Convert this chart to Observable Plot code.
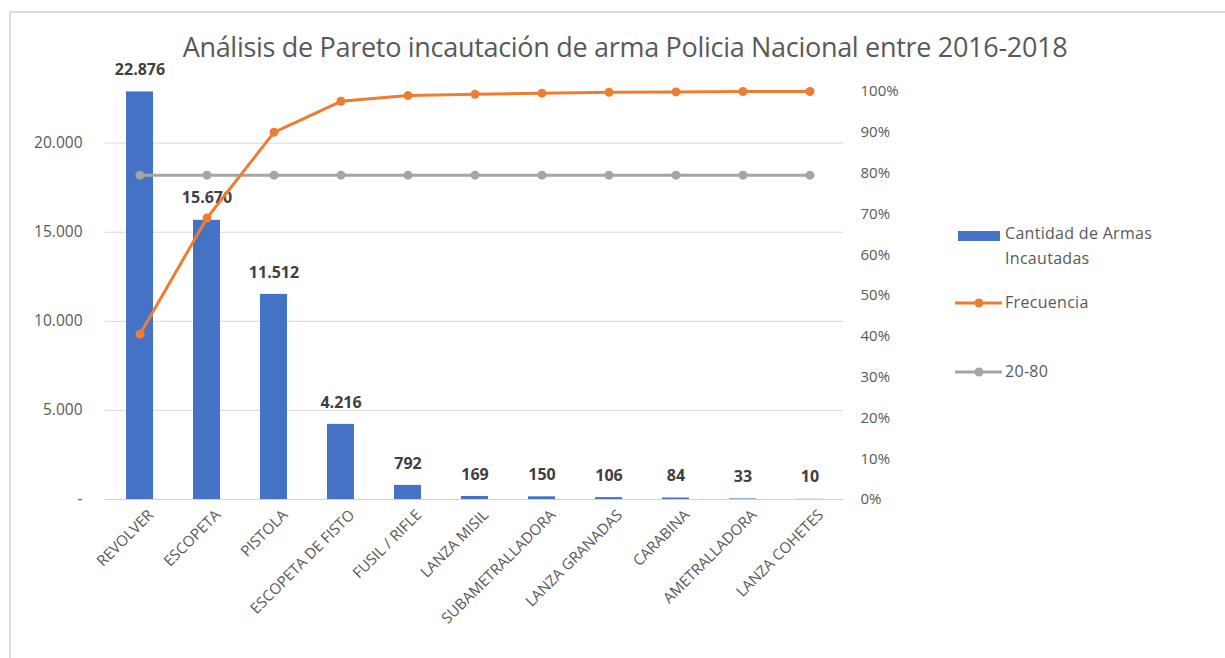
<!DOCTYPE html>
<html>
<head>
<meta charset="utf-8">
<script src="https://cdn.jsdelivr.net/npm/d3@7"></script>
<script src="https://cdn.jsdelivr.net/npm/@observablehq/plot@0.6"></script>
<style>
  html, body { margin: 0; padding: 0; background: #fff; }
  #wrap { position: relative; width: 1225px; height: 658px; overflow: hidden; font-family: "Open Sans", "Noto Sans", sans-serif; }
  #frame { position: absolute; left: 9px; top: 11px; right: -5px; bottom: -5px; border-top: 2px solid #dcdcdc; border-left: 2px solid #dcdcdc; }
  #chart { position: absolute; left: 0; top: 0; }
  #title { position: absolute; left: 0; width: 1250px; top: 28px; text-align: center; font-size: 27px; color: #595959; font-weight: 400; letter-spacing: -0.3px; }
  .leg { position: absolute; font-size: 16px; color: #595959; line-height: 25px; letter-spacing: 0.3px; }
</style>
</head>
<body>
<div id="wrap">
  <div id="frame"></div>
  <div id="chart"></div>
  <div id="title">Análisis de Pareto incautación de arma Policia Nacional entre 2016-2018</div>
  <div id="legend"></div>
</div>
<script>
const categories = ["REVOLVER","ESCOPETA","PISTOLA","ESCOPETA DE FISTO","FUSIL / RIFLE","LANZA MISIL","SUBAMETRALLADORA","LANZA GRANADAS","CARABINA","AMETRALLADORA","LANZA COHETES"];
const cantidad = [22876, 15670, 11512, 4216, 792, 169, 150, 106, 84, 33, 10];
const frecuencia = [0.405, 0.69, 0.90, 0.976, 0.99, 0.993, 0.996, 0.998, 0.999, 1.0, 1.0];
const linea2080 = [0.795, 0.795, 0.795, 0.795, 0.795, 0.795, 0.795, 0.795, 0.795, 0.795, 0.795];
const leftTicks = [0, 5000, 10000, 15000, 20000];
const pctTicks = [0, 0.1, 0.2, 0.3, 0.4, 0.5, 0.6, 0.7, 0.8, 0.9, 1.0];
const legendItems = ["Cantidad de Armas Incautadas", "Frecuencia", "20-80"];

const YMAX = 22900;
const BLUE = "#4472C4", ORANGE = "#ED7D31", GRAY = "#A5A5A5";
const fmtNum = d => d === 0 ? "-" : d3.format(",")(d).replace(/,/g, ".");

const rows = categories.map((c, i) => ({cat: c, n: cantidad[i], f: frecuencia[i] * YMAX, g: linea2080[i] * YMAX}));

const plot = Plot.plot({
  width: 1225,
  height: 658,
  marginLeft: 105,
  marginRight: 382,
  marginTop: 91,
  marginBottom: 159,
  style: {fontFamily: "'Open Sans', 'Noto Sans', sans-serif", fontSize: "13px", color: "#595959", background: "transparent", overflow: "visible"},
  x: {type: "band", domain: categories, paddingInner: 0.6, paddingOuter: 0.3, label: null},
  y: {domain: [0, YMAX], label: null},
  marks: [
    Plot.ruleY(leftTicks.slice(1), {stroke: "#d9d9d9", strokeWidth: 1}),
    Plot.ruleY([0], {stroke: "#d0d0d0", strokeWidth: 1.2}),
    Plot.axisY({ticks: leftTicks, tickFormat: fmtNum, tickSize: 0, tickPadding: 23, fontSize: 15.5, label: null, fill: "#595959"}),
    Plot.axisY({anchor: "right", ticks: pctTicks.map(p => p * YMAX), tickFormat: d => Math.round(d / YMAX * 100) + "%", tickSize: 0, tickPadding: 17, fontSize: 15, label: null, fill: "#595959"}),
    Plot.axisX({tickRotate: -45, tickSize: 0, tickPadding: 10, dx: 11, dy: 3, fontSize: 15, label: null, fill: "#595959"}),
    Plot.barY(rows, {x: "cat", y: "n", fill: BLUE}),
    Plot.text(rows, {x: "cat", y: "n", text: d => fmtNum(d.n), dy: -22, fontSize: 16, fontWeight: "bold", fill: "#404040", lineAnchor: "middle"}),
    Plot.line(rows, {x: "cat", y: "g", stroke: GRAY, strokeWidth: 3}),
    Plot.dot(rows, {x: "cat", y: "g", r: 4.5, fill: GRAY}),
    Plot.line(rows, {x: "cat", y: "f", stroke: ORANGE, strokeWidth: 3}),
    Plot.dot(rows, {x: "cat", y: "f", r: 4.5, fill: ORANGE})
  ]
});
document.getElementById("chart").appendChild(plot);

// Legend
const leg = document.getElementById("legend");
leg.innerHTML = `
  <svg style="position:absolute;left:950px;top:220px" width="60" height="170">
    <rect x="8" y="11" width="42" height="10" fill="${BLUE}"></rect>
    <line x1="5" y1="83" x2="52" y2="83" stroke="${ORANGE}" stroke-width="3"></line>
    <circle cx="29" cy="83" r="4.5" fill="${ORANGE}"></circle>
    <line x1="5" y1="152" x2="52" y2="152" stroke="${GRAY}" stroke-width="3"></line>
    <circle cx="29" cy="152" r="4.5" fill="${GRAY}"></circle>
  </svg>
  <div class="leg" style="left:1005px;top:221px;width:200px">${legendItems[0]}</div>
  <div class="leg" style="left:1005px;top:290px">${legendItems[1]}</div>
  <div class="leg" style="left:1005px;top:359px">${legendItems[2]}</div>
`;
</script>
</body>
</html>
